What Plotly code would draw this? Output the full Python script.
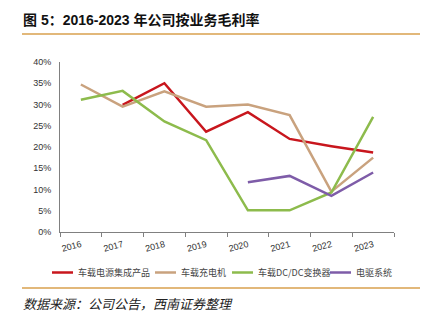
import plotly.graph_objects as go

years = ["2016", "2017", "2018", "2019", "2020", "2021", "2022", "2023"]
names = ["车载电源集成产品", "车载充电机", "车载DC/DC变换器", "电驱系统"]
integrated = [None, 29.9, 35.0, 23.6, 28.2, 21.9, 20.2, 18.7]
charger = [34.7, 29.5, 33.1, 29.5, 30.0, 27.5, 9.5, 17.5]
dcdc = [31.1, 33.2, 26.0, 21.6, 5.1, 5.1, 9.3, 27.1]
drive = [None, None, None, None, 11.7, 13.2, 8.5, 14.0]
yticks = [0, 5, 10, 15, 20, 25, 30, 35, 40]
colors = ["#C8161D", "#C9A27E", "#8DBB4C", "#7E5CA8"]

W, H = 431, 324
L, R, T, B = 60, 394, 62, 232

def px(x):
    return (x - L) / (R - L)

def py(y):
    return (B - y) / (B - T)

fig = go.Figure()
for name, vals, c in zip(names, [integrated, charger, dcdc, drive], colors):
    fig.add_trace(go.Scatter(x=years, y=vals, mode="lines", name=name,
                             line=dict(color=c, width=2.5), showlegend=False,
                             connectgaps=False))

shapes = [
    dict(type="line", xref="paper", yref="paper", x0=px(22), x1=px(420), y0=py(34), y1=py(34),
         line=dict(color="#D9A04E", width=1.5)),
    dict(type="line", xref="paper", yref="paper", x0=px(22), x1=px(420), y0=py(288), y1=py(288),
         line=dict(color="#D9A04E", width=1.5)),
]
annotations = [
    dict(text="<b>图 5：2016-2023 年公司按业务毛利率</b>", xref="paper", yref="paper",
         x=px(21), y=py(20), xanchor="left", yanchor="middle", showarrow=False,
         font=dict(size=14, color="#111111", family="Liberation Sans, Noto Sans CJK SC")),
    dict(text="<i>数据来源：公司公告，西南证券整理</i>", xref="paper", yref="paper",
         x=px(21), y=py(303), xanchor="left", yanchor="middle", showarrow=False,
         font=dict(size=13, color="#222222", family="Noto Sans CJK SC")),
]
leg_x = [52, 155, 232, 330]
for name, c, lx in zip(names, colors, leg_x):
    shapes.append(dict(type="line", xref="paper", yref="paper", x0=px(lx), x1=px(lx + 21),
                       y0=py(272.5), y1=py(272.5), line=dict(color=c, width=2.5)))
    annotations.append(dict(text=name, xref="paper", yref="paper", x=px(lx + 24), y=py(272.5),
                            xanchor="left", yanchor="middle", showarrow=False,
                            font=dict(size=9, color="#444444", family="Noto Sans CJK SC")))

fig.update_layout(
    width=W, height=H,
    margin=dict(l=L, r=W - R, t=T, b=H - B, pad=0),
    paper_bgcolor="white", plot_bgcolor="white",
    shapes=shapes, annotations=annotations,
    xaxis=dict(type="category", range=[-0.5, 7.5], showgrid=False, showline=True,
               linecolor="#808080", linewidth=1, ticks="outside", ticklen=4,
               tickcolor="#808080", tickson="boundaries", tickangle=-15,
               ticklabelstandoff=3,
               tickfont=dict(size=9, color="#333333", family="Liberation Sans")),
    yaxis=dict(range=[0, 40], tickvals=yticks, ticktext=[f"{v}%" for v in yticks],
               showgrid=False, showline=True, linecolor="#808080", linewidth=1,
               ticks="", zeroline=False, ticklabelstandoff=6,
               tickfont=dict(size=9, color="#333333", family="Liberation Sans")),
)
fig.write_html("out.html")
